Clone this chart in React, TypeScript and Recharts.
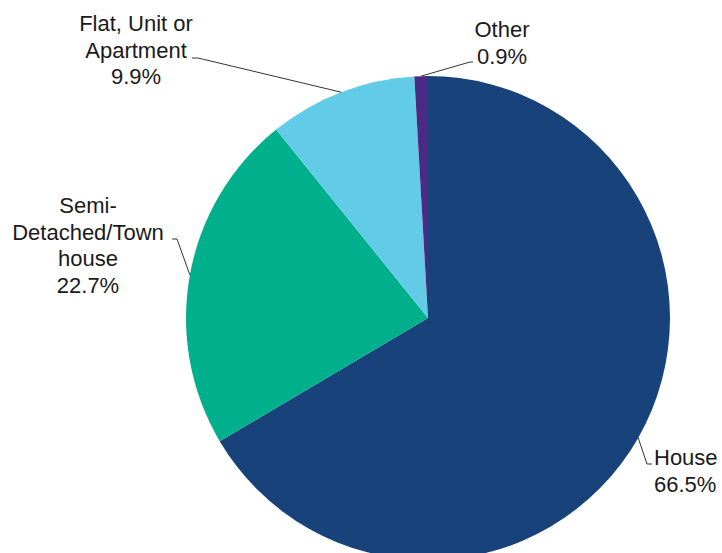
import React from "react";
import { PieChart, Pie, Cell } from "recharts";

const categories = ["House", "Semi-Detached/Town house", "Flat, Unit or Apartment", "Other"];
const labelLines = [["House"], ["Semi-", "Detached/Town", "house"], ["Flat, Unit or", "Apartment"], ["Other"]];
const values = [66.5, 22.7, 9.9, 0.9];
const colors = ["#17437A", "#00B08C", "#62CBE8", "#4B2A84"];

const data = categories.map((name, i) => ({ name, value: values[i] }));

// label layout: offsets relative to pie centre
const layout = [
  { bend: [219, 146], end: [224, 146], tx: 226, ty: 147, anchor: "start" },
  { bend: [-251, -79], end: [-256, -79], tx: -340, ty: -105, anchor: "middle" },
  { bend: [-230, -260], end: [-236, -260], tx: -292, ty: -287, anchor: "middle" },
  { bend: [42, -256], end: [45, -256], tx: 74, ty: -281, anchor: "middle" },
];

const RAD = Math.PI / 180;
const LINE_H = 26.7;

const renderLabel = (props: any) => {
  const { cx, cy, midAngle, outerRadius, index } = props;
  const l = layout[index];
  const ex = cx + outerRadius * Math.cos(-midAngle * RAD);
  const ey = cy + outerRadius * Math.sin(-midAngle * RAD);
  const lines = [...labelLines[index], `${values[index].toFixed(1)}%`];
  return (
    <g key={`lbl-${index}`}>
      <polyline
        points={`${ex},${ey} ${cx + l.bend[0]},${cy + l.bend[1]} ${cx + l.end[0]},${cy + l.end[1]}`}
        fill="none"
        stroke="#333"
        strokeWidth={1}
      />
      <text
        x={cx + l.tx}
        y={cy + l.ty}
        textAnchor={l.anchor as any}
        fontFamily="'Liberation Sans', Arial, sans-serif"
        fontSize={22}
        fill="#1a1a1a"
      >
        {lines.map((s, j) => (
          <tspan key={j} x={cx + l.tx} y={cy + l.ty + j * LINE_H}>
            {s}
          </tspan>
        ))}
      </text>
    </g>
  );
};

export default function App() {
  return (
    <div style={{ position: "absolute", left: 0, top: 0, width: 722, height: 553, background: "#fff" }}>
      <PieChart width={722} height={553} margin={{ top: 0, right: 0, bottom: 0, left: 0 }}>
        <Pie
          data={data}
          dataKey="value"
          nameKey="name"
          cx={428}
          cy={318}
          outerRadius={242}
          startAngle={90}
          endAngle={-270}
          stroke="none"
          label={renderLabel}
          labelLine={false}
          isAnimationActive={false}
        >
          {data.map((d, i) => (
            <Cell key={d.name} fill={colors[i]} />
          ))}
        </Pie>
      </PieChart>
    </div>
  );
}
